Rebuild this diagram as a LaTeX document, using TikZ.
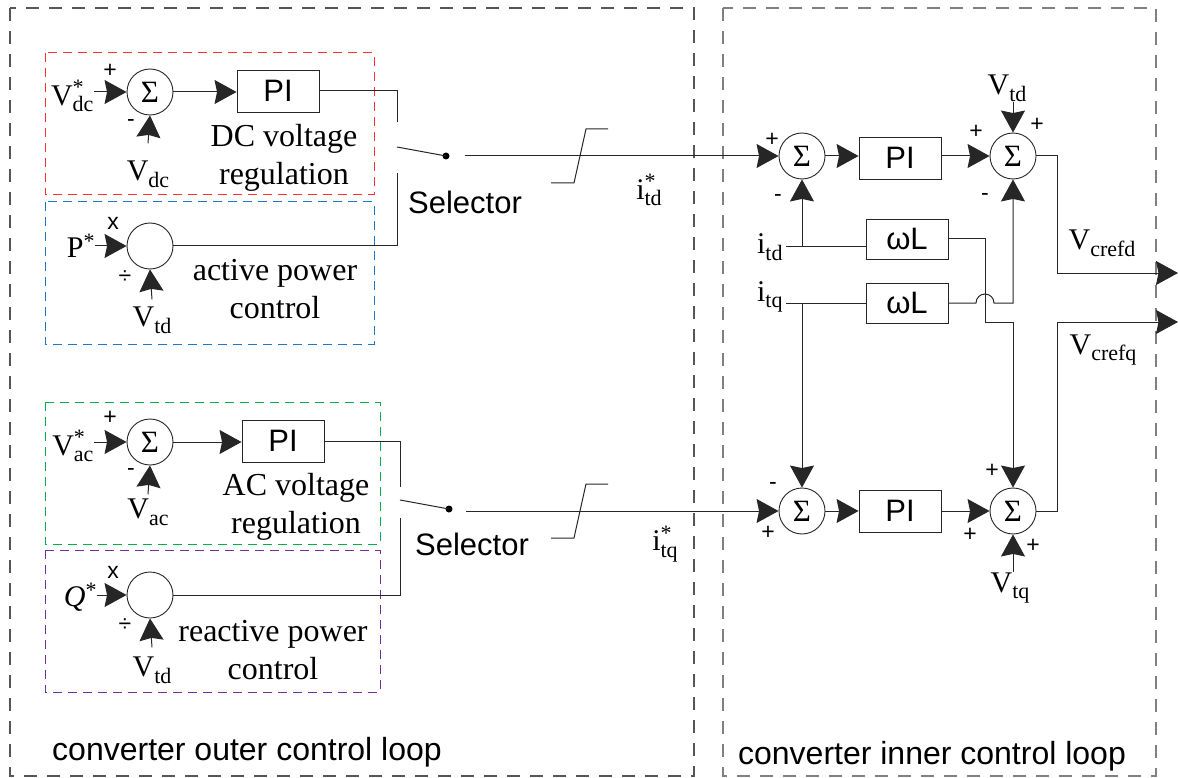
\documentclass[tikz,border=0pt]{standalone}
\usepackage{fontspec}
\setmainfont{Liberation Serif}
\setsansfont{Liberation Sans}
\usepackage{tikz}
\usetikzlibrary{arrows.meta}

\definecolor{boxred}{RGB}{255,50,50}
\definecolor{boxblue}{RGB}{30,120,200}
\definecolor{boxgreen}{RGB}{0,176,80}
\definecolor{boxpurple}{RGB}{112,48,160}
\definecolor{loopgray}{RGB}{85,85,85}

% signal names: letter with lowered index, with or without a star
\newcommand{\sigsub}[2]{#1\raisebox{-0.22em}{\fontsize{22}{22}\selectfont #2}}
\newcommand{\sigref}[2]{#1\rlap{\raisebox{0.36em}{\fontsize{22}{22}\selectfont *}}\raisebox{-0.22em}{\fontsize{22}{22}\selectfont #2}}
\newcommand{\sigstar}[1]{#1\raisebox{0.3em}{\fontsize{22}{22}\selectfont *}}

\begin{document}
\begin{tikzpicture}[x=1pt, y=-1pt, line width=1pt, draw=black!85,
    sumnode/.style={draw, circle, minimum size=46pt, inner sep=0pt, line width=0.9pt, font=\fontsize{31}{32}\selectfont},
    pibox/.style={draw, minimum width=82pt, minimum height=42pt, inner sep=0pt, line width=0.9pt, font=\sffamily\fontsize{31}{34}\selectfont},
    sig/.style={-{Stealth[length=22pt, width=24pt, inset=2.5pt]}},
    sgn/.style={font=\sffamily\fontsize{23}{25}\selectfont, inner sep=0pt},
    lbl/.style={font=\fontsize{30}{34}\selectfont, inner sep=0pt},
    txt/.style={font=\fontsize{32}{38}\selectfont, inner sep=0pt, align=center},
    sans/.style={font=\sffamily\fontsize{31}{36}\selectfont, inner sep=0pt},
    area/.style={dash pattern=on 9pt off 6pt, line width=1pt},
    loopbox/.style={loopgray, dash pattern=on 13pt off 10pt, line width=1.2pt},
    dot/.style={circle, fill, inner sep=0pt, minimum size=7pt}]
\useasboundingbox (0,0) rectangle (1178,778);

% loop frames
\draw[loopbox] (10,8) rectangle (694,776);
\draw[loopbox, gray] (723,8) rectangle (1156,776);
\draw[area, boxred] (45,53) rectangle (374,195);
\draw[area, boxblue] (45,202) rectangle (374,344);
\draw[area, boxgreen] (45,402) rectangle (380,544);
\draw[area, boxpurple] (45,550) rectangle (380,692);

% outer loop, d axis
\node[sumnode] (sdc) at (150,92) {Σ};
\node[pibox] (pdc) at (278,91) {PI};
\node[sumnode] (sp) at (150,246) {};
\node[lbl, anchor=east] (vdcref) at (94,96) {\sigref{V}{dc}};
\node[lbl] (vdc) at (148,174) {\sigsub{V}{dc}};
\node[lbl, anchor=east] (pref) at (95,246) {\sigstar{P}};
\node[lbl] (vtda) at (152,320) {\sigsub{V}{td}};
\node[txt] (dctxt) at (284,158) {DC voltage\\regulation};
\node[txt] (ptxt) at (275,289) {active power\\control};

\draw[sig] (sdc.west -| vdcref.east) -- (sdc.west);
\draw[sig] ([yshift=17pt]vdc.north) -- (sdc.south);
\draw[sig] (sdc.east) -- (sdc.east -| pdc.west);
\draw[sig] (sp.west -| pref.east) -- (sp.west);
\draw[sig] ([yshift=7pt]vtda.north) -- (sp.south);

\coordinate (swa1) at (397,122);
\coordinate (swb1) at (397,173);
\coordinate (swc1) at (397,147);
\coordinate (out1) at (465,156);
\node[dot] (sw1) at (446,156) {};
\draw (pdc.east) -| (swa1);
\draw (sp.east) -| (swb1);
\draw (swc1) -- (sw1.center);
\node[sans] (sel1) at (465,202) {Selector};
\draw (551,183) -- (574,183) -- (586,129) -- (608,129);
\node[lbl] (itdref) at (649,190) {\sigref{i}{td}};

% outer loop, q axis
\node[sumnode] (sac) at (150,442) {Σ};
\node[pibox] (pac) at (283,441) {PI};
\node[sumnode] (sq) at (150,595) {};
\node[lbl, anchor=east] (vacref) at (94,446) {\sigref{V}{ac}};
\node[lbl] (vac) at (148,512) {\sigsub{V}{ac}};
\node[lbl, anchor=east] (qref) at (97,597) {\sigstar{\textit{Q}}};
\node[lbl] (vtdb) at (152,670) {\sigsub{V}{td}};
\node[txt] (actxt) at (296,507) {AC voltage\\regulation};
\node[txt] (qtxt) at (273,650) {reactive power\\control};

\draw[sig] (sac.west -| vacref.east) -- (sac.west);
\draw[sig] ([yshift=4pt]vac.north) -- (sac.south);
\draw[sig] (sac.east) -- (sac.east -| pac.west);
\draw[sig] (sq.west -| qref.east) -- (sq.west);
\draw[sig] ([yshift=9pt]vtdb.north) -- (sq.south);

\coordinate (swa2) at (400,487);
\coordinate (swb2) at (400,518);
\coordinate (swc2) at (400,500);
\coordinate (out2) at (466,511);
\node[dot] (sw2) at (449,509) {};
\draw (pac.east) -| (swa2);
\draw (sq.east) -| (swb2);
\draw (swc2) -- (sw2.center);
\node[sans] (sel2) at (472,544) {Selector};
\draw (551,538) -- (574,538) -- (586,484) -- (608,484);
\node[lbl] (itqref) at (665,544) {\sigref{i}{tq}};

% inner loop
\node[sumnode] (sid) at (802,156) {Σ};
\node[pibox] (pid) at (900,158) {PI};
\node[sumnode] (sod) at (1013,156) {Σ};
\node[pibox, minimum height=40pt] (wla) at (907,239) {ωL};
\node[pibox, minimum height=40pt] (wlb) at (907,303) {ωL};
\node[sumnode] (siq) at (802,511) {Σ};
\node[pibox] (piq) at (900,511) {PI};
\node[sumnode] (soq) at (1013,511) {Σ};

\node[lbl, anchor=east] (itd) at (783,247) {\sigsub{i}{td}};
\node[lbl, anchor=east] (itq) at (783,297) {\sigsub{i}{tq}};
\node[lbl] (vtdc) at (1007,88) {\sigsub{V}{td}};
\node[lbl] (vtq) at (1010,588) {\sigsub{V}{tq}};
\node[lbl] (vrefd) at (1102,243) {\sigsub{V}{crefd}};
\node[lbl] (vrefq) at (1103,350) {\sigsub{V}{crefq}};
\coordinate (jd) at (802,247);
\coordinate (jq) at (802,303);
\coordinate (refd) at (1178,273);
\coordinate (refq) at (1178,322);

\draw[sig] (out1) -- (sid.west);
\draw[sig] (sid.east) -- (sid.east -| pid.west);
\draw[sig] (pid.east |- sod.west) -- (sod.west);
\draw[sig] (sod.north |- vtdc.south) -- (sod.north);
\draw[sig] (out2) -- (siq.west);
\draw[sig] (siq.east) -- (siq.east -| piq.west);
\draw[sig] (piq.east |- soq.west) -- (soq.west);
\draw[sig] (soq.south |- vtq.north) -- (soq.south);

\draw ([xshift=3pt]itd.east |- jd) -- (wla.west |- jd);
\draw ([xshift=3pt]itq.east |- jq) -- (wlb.west |- jq);
\draw[sig] (jd) -- (sid.south);
\draw[sig] (jq) -- (siq.north);
\draw[sig] (wla.east) -| (985,322) -| (soq.north);
\draw[sig] (wlb.east) -- (976,303) arc[start angle=180, end angle=0, radius=9pt] -| (sod.south);
\draw[sig] (sod.east) -| (1057,273) -- (refd);
\draw[sig] (soq.east) -| (1057,322) -- (refq);

% signs at the summing points
\foreach \px/\py/\s [count=\k] in {110/71/+, 131/123/-, 113/223/x, 125/277/÷,
    110/418/+, 131/472/-, 113/572/x, 125/625/÷,
    772/140/+, 778/198/-, 976/132/+, 1037/125/+, 985/197/-,
    773/486/-, 768/533/+, 992/471/+, 970/535/+, 1033/546/+}
  \node[sgn] (sg\k) at (\px,\py) {\s};

\node[sans, font=\sffamily\fontsize{32}{36}\selectfont] (outerlbl) at (247,752) {converter outer control loop};
\node[sans, font=\sffamily\fontsize{32}{36}\selectfont] (innerlbl) at (932,756) {converter inner control loop};
\end{tikzpicture}
\end{document}
